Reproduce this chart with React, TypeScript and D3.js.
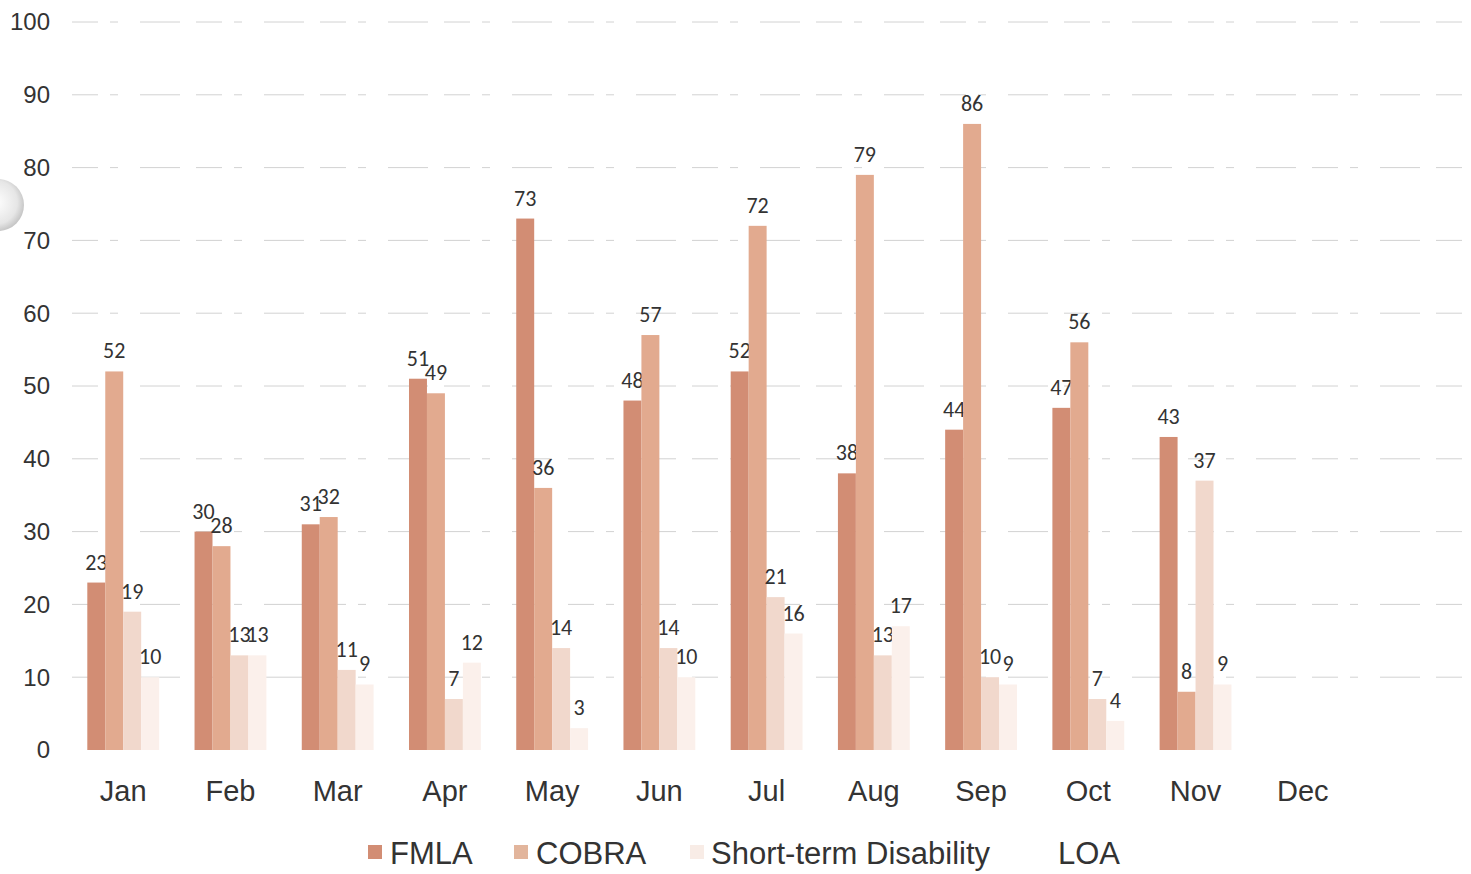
import React from "react";
import * as d3 from "d3";

const months = ["Jan", "Feb", "Mar", "Apr", "May", "Jun", "Jul", "Aug", "Sep", "Oct", "Nov", "Dec"];
const seriesNames = ["FMLA", "COBRA", "Short-term Disability", "LOA"];
const fmla = [23, 30, 31, 51, 73, 48, 52, 38, 44, 47, 43, null];
const cobra = [52, 28, 32, 49, 36, 57, 72, 79, 86, 56, 8, null];
const std = [19, 13, 11, 7, 14, 14, 21, 13, 10, 7, 37, null];
const loa = [10, 13, 9, 12, 3, 10, 16, 17, 9, 4, 9, null];
const yTicks = [0, 10, 20, 30, 40, 50, 60, 70, 80, 90, 100];

const colors = ["#d28d74", "#e2aa8f", "#f1d8cc", "#fbf0eb"];
const legendSwatch = ["#d28d74", "#e2b59c", "#f8ece6", "none"];

export default function App() {
  const W = 1471;
  const H = 874;
  const y = d3.scaleLinear().domain([0, 100]).range([750, 22]);
  const x = d3.scaleBand<string>().domain(months).range([68, 1358]).paddingInner(0.33).paddingOuter(0.18);
  const inner = d3.scaleBand<number>().domain([0, 1, 2, 3]).range([0, x.bandwidth()]);
  const all = [fmla, cobra, std, loa];

  const legendItems = [
    { sx: 368, tx: 390 },
    { sx: 514, tx: 536 },
    { sx: 690, tx: 711 },
    { sx: 1040, tx: 1058 },
  ];

  return (
    <svg width={W} height={H} style={{ position: "absolute", left: 0, top: 0, background: "#fff" }}>
      <defs>
        <radialGradient id="hole" cx="0.45" cy="0.45" r="0.6">
          <stop offset="0%" stopColor="#ffffff" />
          <stop offset="70%" stopColor="#e6e6e6" />
          <stop offset="100%" stopColor="#bdbdbd" />
        </radialGradient>
      </defs>
      <rect x={0} y={0} width={W} height={H} fill="#fff" />
      {yTicks.map((t) => (
        <g key={t}>
          {t > 0 && (
            <line
              x1={72}
              x2={1462}
              y1={y(t)}
              y2={y(t)}
              stroke="#d2d2d2"
              strokeWidth={1}
              strokeDasharray="26 12 8 22 40 16"
            />
          )}
          <text
            x={50}
            y={y(t)}
            dy="0.35em"
            textAnchor="end"
            fontFamily="'Liberation Sans', Arial, sans-serif"
            fontSize={24}
            fill="#333"
          >
            {t}
          </text>
        </g>
      ))}
      <circle cx={-2} cy={205} r={26} fill="url(#hole)" />
      {months.map((m, i) => (
        <g key={m} transform={`translate(${x(m)},0)`}>
          {all.map((s, k) => {
            const v = s[i];
            if (v == null) return null;
            const bx = inner(k)!;
            const bw = inner.bandwidth();
            return (
              <g key={k}>
                <rect x={bx} y={y(v)} width={bw} height={y(0) - y(v)} fill={colors[k]} />
                <text
                  x={bx + bw / 2}
                  y={y(v) - 13}
                  textAnchor="middle"
                  fontFamily="Carlito, Lato, 'Open Sans', sans-serif"
                  fontSize={22}
                  fill="#333"
                >
                  {v}
                </text>
              </g>
            );
          })}
          <text
            x={x.bandwidth() / 2}
            y={801}
            textAnchor="middle"
            fontFamily="'Liberation Sans', Arial, sans-serif"
            fontSize={29}
            fill="#333"
          >
            {m}
          </text>
        </g>
      ))}
      {seriesNames.map((n, k) => (
        <g key={n}>
          {legendSwatch[k] !== "none" && (
            <rect x={legendItems[k].sx} y={845} width={14} height={14} fill={legendSwatch[k]} />
          )}
          <text
            x={legendItems[k].tx}
            y={864}
            fontFamily="'Liberation Sans', Arial, sans-serif"
            fontSize={31}
            fill="#333"
          >
            {n}
          </text>
        </g>
      ))}
    </svg>
  );
}
